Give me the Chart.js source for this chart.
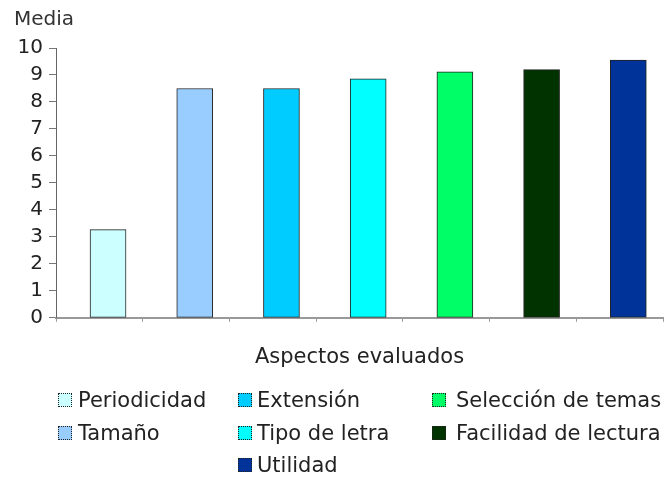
<!DOCTYPE html>
<html lang="es">
<head>
<meta charset="utf-8">
<title>Media por aspecto evaluado</title>
<script src="https://cdn.jsdelivr.net/npm/chart.js@4/dist/chart.umd.min.js"></script>
<style>
  html, body { margin: 0; padding: 0; background: #fff; }
  #wrap {
    position: relative; width: 671px; height: 477px;
    font-family: "DejaVu Sans", Verdana, sans-serif; color: #222;
  }
  #chartBox { position: absolute; left: 0; top: 0; width: 671px; height: 477px; }
  #yTitle {
    position: absolute; left: 14px; top: 8px;
    font-size: 20px; line-height: 20px; color: #333; white-space: nowrap;
  }
  .item {
    position: absolute; display: flex; align-items: center;
    height: 24px; line-height: 24px; font-size: 21px; white-space: nowrap;
  }
  .box { width: 12px; height: 12px; border: 1px dotted #222; flex: none; }
</style>
</head>
<body>
<div id="wrap">
  <div id="chartBox"><canvas id="chart"></canvas></div>
  <div id="yTitle">Media</div>
  <div id="legend"></div>
</div>
<script>
// Aspects that were rated, and their mean score
const categories = ['Periodicidad', 'Tamaño', 'Extensión', 'Tipo de letra',
                    'Selección de temas', 'Facilidad de lectura', 'Utilidad'];
const medias = [3.27, 8.5, 8.5, 8.86, 9.12, 9.2, 9.55];
const barColors = ['#CCFFFF', '#99CCFF', '#00CCFF', '#00FFFF', '#00FF66', '#003300', '#003399'];
const yTicks = [0, 1, 2, 3, 4, 5, 6, 7, 8, 9, 10];
const axisTitle = 'Aspectos evaluados';

// legend grid: rows of category indexes (null = empty cell)
const legendRows = [[0, 2, 4], [1, 3, 5], [null, 6, null]];
const legendCols = [{ left: 58, gap: 6 }, { left: 238, gap: 5 }, { left: 432, gap: 10 }];
const legendRowTop = [388, 420.5, 453];

// each bar sits slightly right of its slot centre
const barShift = 0.6;

const font = '"DejaVu Sans", Verdana, sans-serif';

new Chart(document.getElementById('chart'), {
  type: 'bar',
  data: {
    datasets: [{
      data: medias.map((v, i) => ({ x: i + barShift, y: v })),
      backgroundColor: barColors,
      borderColor: '#222',
      borderWidth: 1,
      borderSkipped: false,
      barThickness: 36
    }]
  },
  options: {
    responsive: true,
    maintainAspectRatio: false,
    animation: false,
    layout: { padding: { left: 12, right: 8, top: 48, bottom: 107 } },
    plugins: { legend: { display: false }, tooltip: { enabled: false } },
    scales: {
      x: {
        type: 'linear',
        offset: false,
        min: 0,
        max: categories.length,
        afterBuildTicks: s => {
          s.ticks = categories.map((_, i) => ({ value: i })).concat([{ value: categories.length }]);
        },
        ticks: { display: false },
        grid: { offset: false, drawOnChartArea: false, drawTicks: true, tickLength: 4, color: '#999' },
        border: { display: true, color: '#999', width: 2 },
        title: {
          display: true, text: axisTitle, color: '#222',
          font: { family: font, size: 21 },
          padding: { top: 23, bottom: 0 }
        }
      },
      y: {
        min: 0,
        max: 10,
        afterBuildTicks: s => { s.ticks = yTicks.map(v => ({ value: v })); },
        afterFit: s => { s.width = 44; },
        ticks: { autoSkip: false, color: '#222', padding: 6, font: { family: font, size: 20, lineHeight: 1 } },
        grid: { drawOnChartArea: false, drawTicks: true, tickLength: 7, color: '#777' },
        border: { display: true, color: '#666', width: 1, dash: [2, 1] }
      }
    }
  }
});

// legend
const legend = document.getElementById('legend');
legendRows.forEach((row, r) => {
  row.forEach((idx, c) => {
    if (idx === null) return;
    const item = document.createElement('div');
    item.className = 'item';
    item.style.left = legendCols[c].left + 'px';
    item.style.top = legendRowTop[r] + 'px';
    const box = document.createElement('span');
    box.className = 'box';
    box.style.background = barColors[idx];
    box.style.marginRight = legendCols[c].gap + 'px';
    const label = document.createElement('span');
    label.textContent = categories[idx];
    item.appendChild(box);
    item.appendChild(label);
    legend.appendChild(item);
  });
});
</script>
</body>
</html>
